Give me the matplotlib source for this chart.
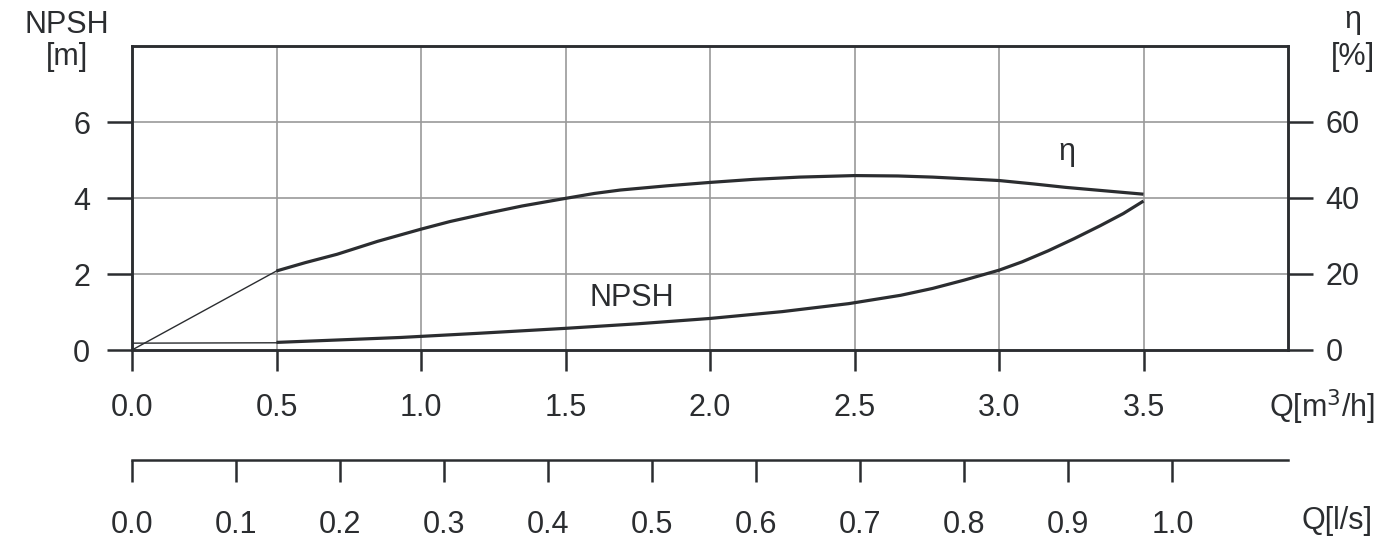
import matplotlib.pyplot as plt

plt.rcParams['font.family'] = ['Liberation Sans', 'DejaVu Sans']

# flow in m3/h and readings taken off the curves
q_eta = [0.5, 0.6, 0.71, 0.85, 1.0, 1.1, 1.23, 1.35, 1.5, 1.6, 1.69, 1.85,
         2.0, 2.15, 2.31, 2.5, 2.65, 2.77, 2.9, 3.0, 3.12, 3.23, 3.35, 3.5]
eta = [20.8, 23.0, 25.2, 28.6, 31.8, 33.8, 36.0, 37.9, 39.9, 41.2, 42.1, 43.2,
       44.1, 44.9, 45.5, 45.9, 45.8, 45.5, 45.0, 44.6, 43.7, 42.8, 42.0, 41.0]
q_eta_start = [0.0, 0.5]
eta_start = [0.0, 20.8]

q_npsh = [0.5, 0.7, 0.93, 1.2, 1.5, 1.75, 2.0, 2.25, 2.48, 2.66, 2.77, 2.88,
          3.0, 3.08, 3.17, 3.26, 3.35, 3.43, 3.5]
npsh = [0.2, 0.26, 0.33, 0.44, 0.57, 0.69, 0.83, 1.01, 1.22, 1.44, 1.62, 1.84,
        2.1, 2.32, 2.61, 2.93, 3.27, 3.59, 3.92]
q_npsh_start = [0.0, 0.5]
npsh_start = [0.18, 0.19]

q_ticks = [0.0, 0.5, 1.0, 1.5, 2.0, 2.5, 3.0, 3.5]
ls_ticks = [0.0, 0.1, 0.2, 0.3, 0.4, 0.5, 0.6, 0.7, 0.8, 0.9, 1.0]
npsh_ticks = [0, 2, 4, 6]
eta_ticks = [0, 20, 40, 60]

ink = '#2b2d30'
grid_c = '#9a9a9a'
fs = 22

fig = plt.figure(figsize=(13.87, 5.43), dpi=100)
ax = fig.add_axes([132 / 1387, 1 - 350 / 543, (1288 - 132) / 1387, (350 - 46) / 543])
ax.set_xlim(0, 4.0)
ax.set_ylim(0, 8)

for x in q_ticks[1:]:
    ax.axvline(x, color=grid_c, lw=1.2, zorder=1)
for y in npsh_ticks[1:]:
    ax.axhline(y, color=grid_c, lw=1.2, zorder=1)

ax.plot(q_npsh_start, npsh_start, color=ink, lw=1.0, zorder=3)
ax.plot(q_npsh, npsh, color=ink, lw=2.3, zorder=3, solid_capstyle='butt')

ax2 = ax.twinx()
ax2.set_ylim(0, 80)
ax2.plot(q_eta_start, eta_start, color=ink, lw=1.0, zorder=3)
ax2.plot(q_eta, eta, color=ink, lw=2.3, zorder=3, solid_capstyle='butt')

for a in (ax, ax2):
    for s in a.spines.values():
        s.set_color(ink)
        s.set_linewidth(1.8)

ax.set_xticks(q_ticks)
ax.set_xticklabels([f'{v:.1f}' for v in q_ticks])
ax.set_yticks(npsh_ticks)
ax.tick_params(axis='x', direction='out', length=15, width=1.8, color=ink,
               labelsize=fs, labelcolor=ink, pad=16)
ax.tick_params(axis='y', direction='out', length=18, width=1.8, color=ink,
               labelsize=fs, labelcolor=ink, pad=12)
ax2.set_yticks(eta_ticks)
ax2.tick_params(axis='y', direction='out', length=18, width=1.8, color=ink,
                labelsize=fs, labelcolor=ink, pad=9)

ax.text(1.73, 1.37, 'NPSH', fontsize=fs, color=ink, ha='center', va='center')
ax.text(3.236, 5.21, 'η', fontsize=fs, color=ink, ha='center', va='center')

fig.text(67 / 1387, 1 - 25 / 543, 'NPSH', fontsize=fs, color=ink, ha='center', va='center')
fig.text(67 / 1387, 1 - 57 / 543, '[m]', fontsize=fs, color=ink, ha='center', va='center')
fig.text(1353 / 1387, 1 - 20 / 543, 'η', fontsize=fs, color=ink, ha='center', va='center')
fig.text(1353 / 1387, 1 - 57 / 543, '[%]', fontsize=fs, color=ink, ha='center', va='center')
fig.text(1322 / 1387, 1 - 407 / 543, 'Q[m$^3$/h]', fontsize=fs, color=ink, ha='center', va='center')

# second flow scale in l/s
ax3 = fig.add_axes([132 / 1387, 1 - 460 / 543, (1288 - 132) / 1387, 0.0001])
ax3.set_xlim(0, 4.0 / 3.6)
ax3.set_ylim(0, 1)
ax3.set_yticks([])
for side in ('left', 'right', 'bottom'):
    ax3.spines[side].set_visible(False)
ax3.spines['top'].set_color(ink)
ax3.spines['top'].set_linewidth(1.8)
ax3.xaxis.set_ticks_position('bottom')
ax3.set_xticks(ls_ticks)
ax3.set_xticklabels([f'{v:.1f}' for v in ls_ticks])
ax3.tick_params(axis='x', direction='out', length=16, width=1.8, color=ink,
                labelsize=fs, labelcolor=ink, pad=20)
fig.text(1337 / 1387, 1 - 521 / 543, 'Q[l/s]', fontsize=fs, color=ink, ha='center', va='center')

fig.savefig('out.png', dpi=100)
